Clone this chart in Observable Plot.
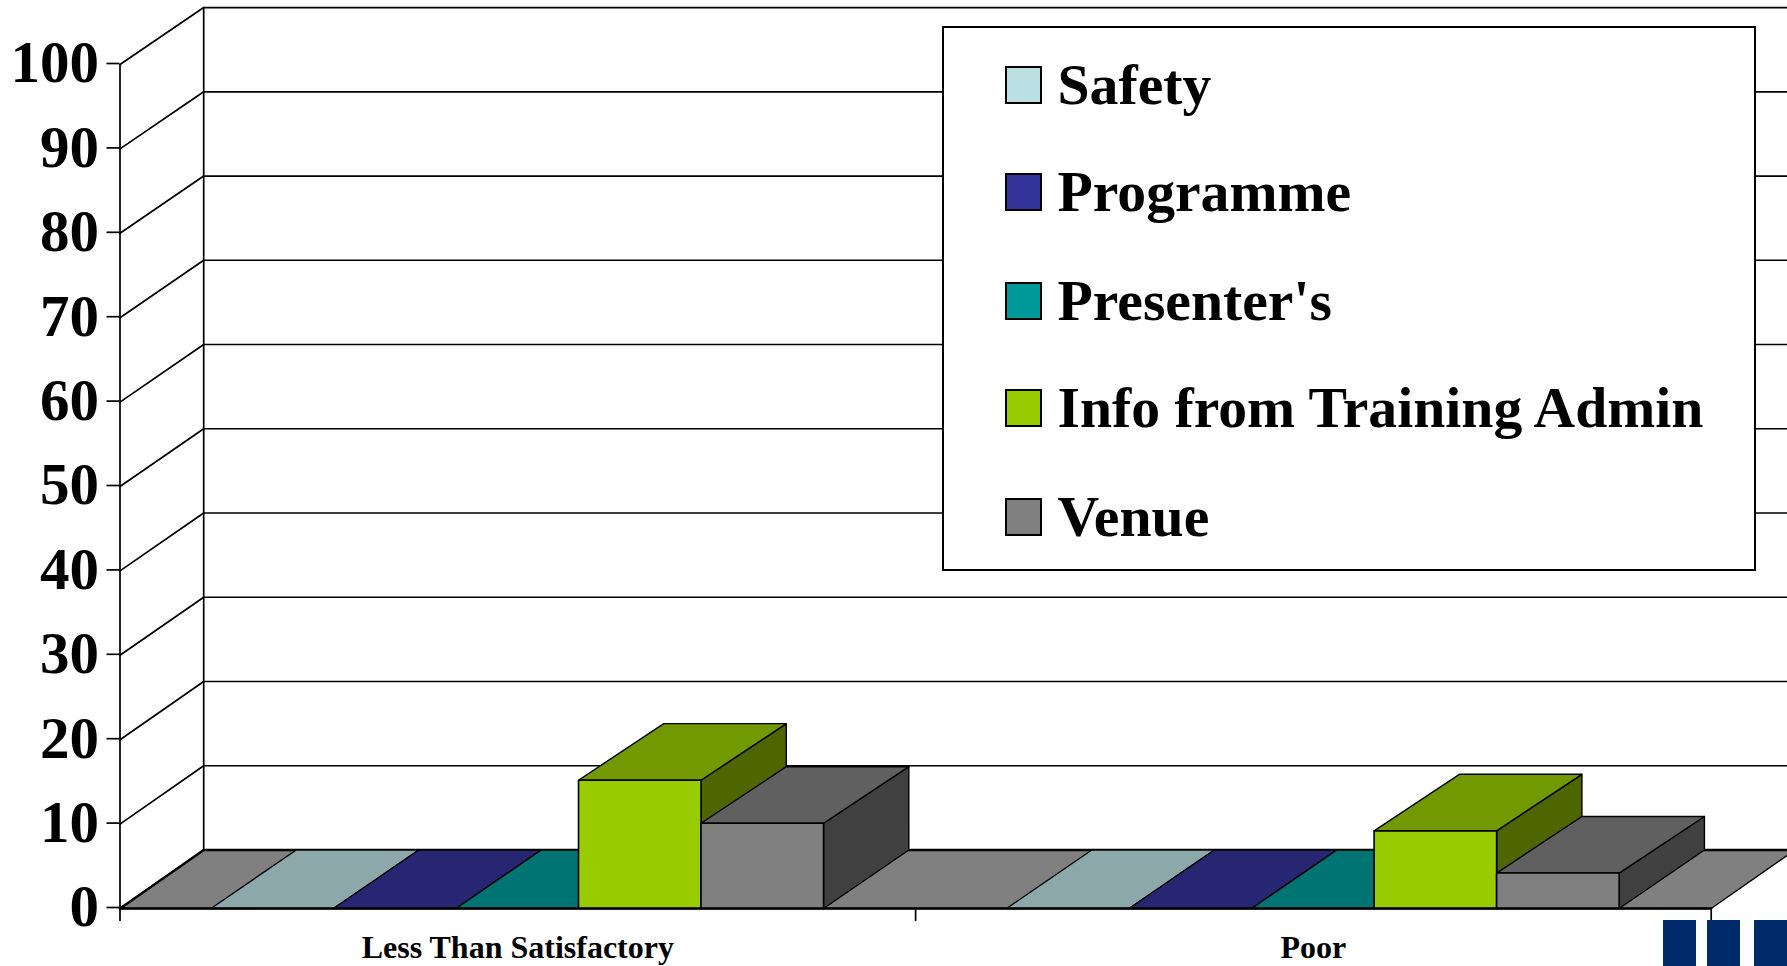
<!DOCTYPE html>
<html>
<head>
<meta charset="utf-8">
<script src="https://cdn.jsdelivr.net/npm/d3@7"></script>
<script src="https://cdn.jsdelivr.net/npm/@observablehq/plot@0.6"></script>
<style>
  html, body { margin: 0; padding: 0; background: #fff; overflow: hidden; }
  #stage { position: relative; width: 1787px; height: 966px; overflow: hidden; font-family: "Liberation Serif", serif; font-weight: bold; color: #000; }
  #stage svg { display: block; position: absolute; left: 0; top: 0; }
  #legend { position: absolute; left: 942px; top: 26px; width: 809.5px; height: 540.5px; background: #fff; border: 2px solid #000; box-sizing: content-box; }
  .sw { position: absolute; left: 60.5px; width: 33.5px; height: 33.5px; border: 2px solid #000; }
  .lb { position: absolute; left: 113.5px; font-size: 57.7px; line-height: 57.7px; white-space: nowrap; }
  .logo { position: absolute; top: 920px; height: 46px; background: #002b6b; }
</style>
</head>
<body>
<div id="stage"></div>
<script>
const categories = ["Less Than Satisfactory", "Poor"];
const seriesNames = ["Safety", "Programme", "Presenter's", "Info from Training Admin", "Venue"];
const safety = [0, 0];
const programme = [0, 0];
const presenters = [0, 0];
const info = [15.2, 9.2];
const venue = [10.1, 4.2];
const seriesValues = [safety, programme, presenters, info, venue];
const frontColors = ["#bbe0e3", "#333399", "#009999", "#99cc00", "#808080"];
const topColors = ["#8ca8aa", "#262673", "#007373", "#739900", "#606060"];
const sideColors = ["#5e7072", "#1a1a4d", "#004d4d", "#4d6600", "#404040"];
const floorColor = "#808080";
const yTicks = d3.range(0, 101, 10);

// oblique projection constants, in data units
const depthX = 0.1052;
const barDepthX = 0.1072;
const barDepthY = 6.7;
const wallDepthY = v => 6.93 - 0.0018 * v;
const barW = 0.154;
const barShift = -0.0007;

const pr = (u, v, t = 0) => ({x: u + t * depthX, y: v + t * wallDepthY(v)});
const prb = (u, v, t = 0) => ({x: u + t * barDepthX, y: v + t * (v > 0 ? barDepthY : wallDepthY(0))});
const face = (pts, fill, strokeWidth = 1.4) =>
  Plot.line(pts, {x: "x", y: "y", fill, stroke: "#000", strokeWidth, curve: "linear-closed"});

const marks = [];

// floor
marks.push(face([pr(0, 0), pr(2, 0), pr(2, 0, 1), pr(0, 0, 1)], floorColor));
// walls
marks.push(Plot.line([pr(0, 0), pr(0, 100)], {x: "x", y: "y", stroke: "#000", strokeWidth: 1.7}));
marks.push(Plot.line([pr(0, 0, 1), pr(0, 100, 1)], {x: "x", y: "y", stroke: "#000", strokeWidth: 1.7}));
for (const v of yTicks) {
  marks.push(Plot.line([pr(0, v), pr(0, v, 1), pr(2, v, 1)], {x: "x", y: "y", stroke: "#000", strokeWidth: v === 0 ? 2.4 : 1.7}));
}
// bars
categories.forEach((c, i) => {
  seriesNames.forEach((s, k) => {
    const v = seriesValues[k][i];
    const u0 = i + 0.5 + barShift - 2.5 * barW + k * barW;
    const u1 = u0 + barW;
    if (v > 0) marks.push(face([
      {x: u1, y: 0},
      {x: u1 + barDepthX, y: wallDepthY(0)},
      prb(u1, v, 1),
      prb(u1, v)
    ], sideColors[k]));
    marks.push(face([prb(u0, v), prb(u1, v), prb(u1, v, 1), prb(u0, v, 1)], topColors[k]));
    if (v > 0) marks.push(face([prb(u0, 0), prb(u1, 0), prb(u1, v), prb(u0, v)], frontColors[k], 1.6));
  });
});
// front floor edge
marks.push(Plot.line([pr(0, 0), pr(2, 0)], {x: "x", y: "y", stroke: "#000", strokeWidth: 2.4}));

// axes
marks.push(Plot.axisY({ticks: yTicks, tickSize: 13, tickPadding: 8, fontSize: 59, fontWeight: "bold", label: null, strokeWidth: 1.7, dy: -1}));
marks.push(Plot.axisX({ticks: [0, 1, 2], tickSize: 13, tickFormat: () => "", label: null, strokeWidth: 1.7}));
marks.push(Plot.axisX({ticks: categories.map((c, i) => i + 0.5), tickSize: 0, tickPadding: 27, fontSize: 32, fontWeight: "bold", label: null, tickFormat: d => categories[Math.floor(d)]}));

const chart = Plot.plot({
  width: 1787,
  height: 966,
  marginLeft: 119.5,
  marginRight: 76.3,
  marginTop: 64,
  marginBottom: 58,
  x: {domain: [0, 2], axis: null},
  y: {domain: [0, 100], axis: null},
  style: {fontFamily: "'Liberation Serif', serif", background: "#fff", color: "#000", overflow: "hidden"},
  marks
});
const stage = document.getElementById("stage");
stage.appendChild(chart);

// legend
const legend = document.createElement("div");
legend.id = "legend";
const swatchTops = [40, 147, 256, 363, 472];
seriesNames.forEach((s, k) => {
  const sw = document.createElement("div");
  sw.className = "sw";
  sw.style.top = swatchTops[k] - 2 + "px";
  sw.style.background = frontColors[k];
  legend.appendChild(sw);
  const lb = document.createElement("div");
  lb.className = "lb";
  lb.style.top = swatchTops[k] - 12 + "px";
  lb.textContent = s;
  legend.appendChild(lb);
});
stage.appendChild(legend);

// corner logo blocks
for (const [l, w] of [[1663, 33], [1707, 33], [1753.5, 34]]) {
  const b = document.createElement("div");
  b.className = "logo";
  b.style.left = l + "px";
  b.style.width = w + "px";
  stage.appendChild(b);
}
</script>
</body>
</html>
